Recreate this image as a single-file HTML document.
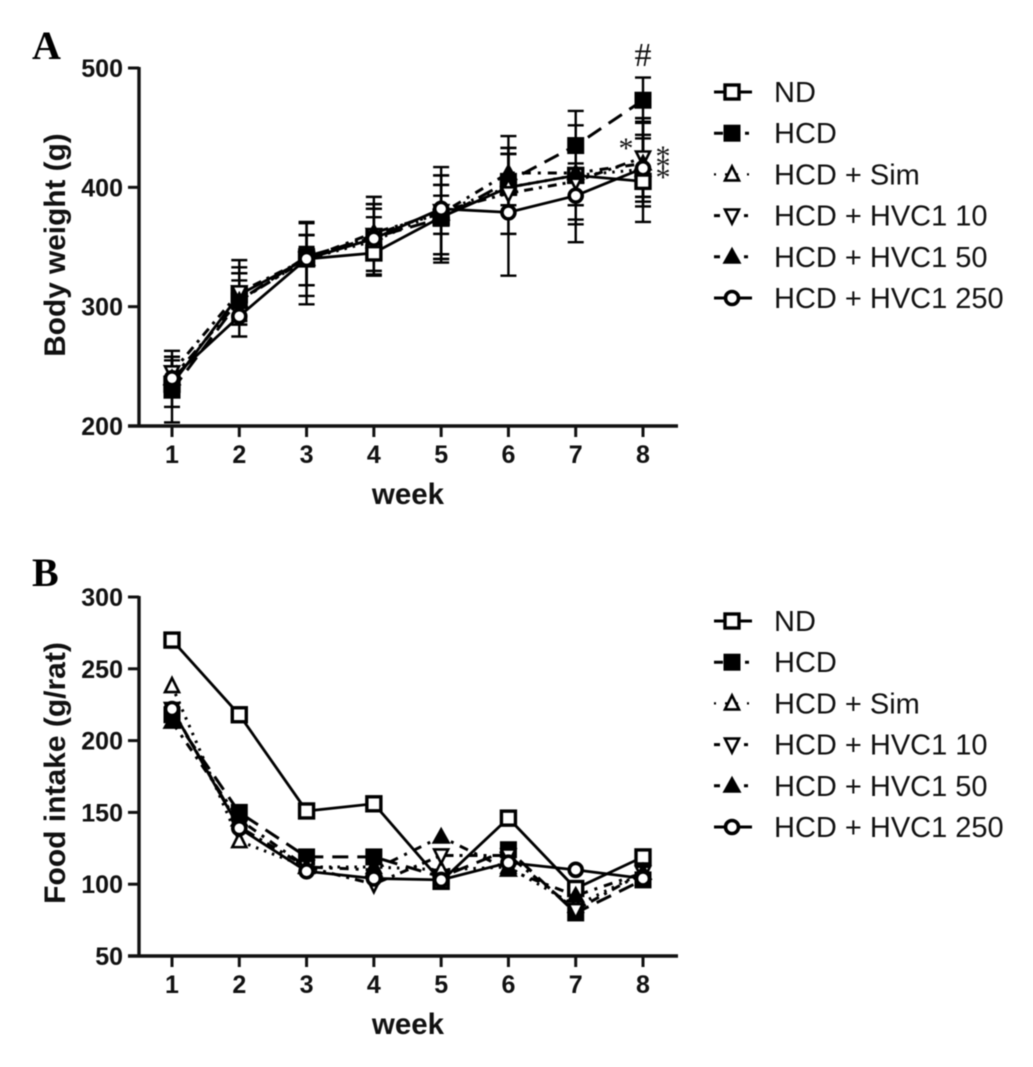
<!DOCTYPE html>
<html>
<head>
<meta charset="utf-8">
<title>Body weight and food intake</title>
<style>
html,body{margin:0;padding:0;background:#fff;width:1033px;height:1067px;overflow:hidden}
svg{display:block;filter:blur(0.45px)}
text{font-family:"Liberation Sans",Arial,sans-serif;fill:#111}
.tick{font-weight:bold;font-size:25px}
.title{font-weight:bold;font-size:29.5px}
.leg{font-size:29px}
.letter{font-family:"Liberation Serif",serif;font-weight:bold;font-size:40px;fill:#000}
.note{font-family:"Liberation Serif",serif;font-size:34px}
</style>
</head>
<body>
<svg id="chart" width="1033" height="1067" viewBox="0 0 1033 1067" xmlns="http://www.w3.org/2000/svg"></svg>
<script>
var weeks = [1,2,3,4,5,6,7,8];
var seriesNames = ['ND','HCD','HCD + Sim','HCD + HVC1 10','HCD + HVC1 50','HCD + HVC1 250'];

var bodyWeightTicks = [200,300,400,500];
var bwND   = [235,310,340,345,375,400,410,405];
var bwHCD  = [230,305,342,358,374,405,435,473];
var bwSim  = [240,305,340,355,380,400,410,415];
var bwH10  = [245,312,340,360,380,395,405,425];
var bwH50  = [240,305,340,362,378,412,412,420];
var bwH250 = [240,292,340,357,382,379,393,416];

var bwUpND   = [258,333,370,375,402,428,452,444];
var bwUpHCD  = [250,328,371,386,410,433,464,492];
var bwUpSim  = [255,322,360,382,417,433,440,458];
var bwUpH10  = [263,339,360,392,410,428,430,454];
var bwUpH50  = [258,328,350,386,402,443,440,458];
var bwUpH250 = [258,310,360,382,393,428,420,441];

var bwLowND   = [216,288,318,330,344,361,373,371];
var bwLowHCD  = [203,285,309,326,340,385,405,455];
var bwLowSim  = [225,288,318,327,361,380,369,392];
var bwLowH10  = [228,290,318,340,337,380,385,388];
var bwLowH50  = [225,285,318,340,344,395,385,392];
var bwLowH250 = [225,275,302,340,340,326,354,384];

var foodTicks = [50,100,150,200,250,300];
var fiND   = [270,218,151,156,102,146,97,119];
var fiHCD  = [218,150,119,119,105,124,80,103];
var fiSim  = [238,130,112,112,110,112,85,108];
var fiH10  = [222,140,112,100,120,120,82,108];
var fiH50  = [213,145,112,110,133,110,92,108];
var fiH250 = [222,139,109,104,103,115,110,104];

var NS = 'http://www.w3.org/2000/svg';
var root = document.getElementById('chart');
var dashes = ['', '16 9', '2.5 6', '9 6 3 6', '9 7 3 7', ''];
var widths = [2.8, 3, 3, 3, 3, 2.8];

function mk(parent, tag, attrs, txt) {
  var e = document.createElementNS(NS, tag);
  for (var k in attrs) e.setAttribute(k, attrs[k]);
  if (txt !== undefined) e.textContent = txt;
  parent.appendChild(e);
  return e;
}

function marker(parent, i, x, y) {
  var g = mk(parent, 'g', {});
  
  
  var s = 3.4;
  if (i === 0) mk(g, 'rect', {x:x-7, y:y-7, width:14, height:14, fill:'#fff', stroke:'#000', 'stroke-width':s});
  if (i === 1) mk(g, 'rect', {x:x-8.5, y:y-8.5, width:17, height:17, fill:'#000'});
  if (i === 2) mk(g, 'polygon', {points:(x)+','+(y-8)+' '+(x+7)+','+(y+6)+' '+(x-7)+','+(y+6), fill:'#fff', stroke:'#000', 'stroke-width':2.6});
  if (i === 3) mk(g, 'polygon', {points:(x)+','+(y+8)+' '+(x+7)+','+(y-6)+' '+(x-7)+','+(y-6), fill:'#fff', stroke:'#000', 'stroke-width':2.6});
  if (i === 4) mk(g, 'polygon', {points:(x)+','+(y-10)+' '+(x+9.5)+','+(y+7)+' '+(x-9.5)+','+(y+7), fill:'#000'});
  if (i === 5) mk(g, 'circle', {cx:x, cy:y, r:6.5, fill:'#fff', stroke:'#000', 'stroke-width':3.6});
}

function panel(cfg) {
  var g = mk(root, 'g', {});
  
  
  var sx = function (w) { return 172 + (w - 1) * (643 - 172) / 7; };
  var sy = function (v) { return cfg.y0 + (v - cfg.v0) * (cfg.y1 - cfg.y0) / (cfg.v1 - cfg.v0); };

  var yAxis = mk(g, 'line', {x1:139, x2:139, y1:sy(cfg.v1)-1, y2:cfg.y0+1.5, stroke:'#111', 'stroke-width':3.4});
  
  
  var xAxis = mk(g, 'line', {x1:128, x2:678, y1:cfg.y0, y2:cfg.y0, stroke:'#111', 'stroke-width':3.4});
  
  

  cfg.ticks.forEach(function (t) {
    mk(g, 'line', {x1:128, x2:139, y1:sy(t), y2:sy(t), stroke:'#111', 'stroke-width':3});
    var lab = mk(g, 'text', {x:123, y:sy(t)+9, 'text-anchor':'end', 'class':'tick'}, t);
    
    
  });
  weeks.forEach(function (w) {
    mk(g, 'line', {x1:sx(w), x2:sx(w), y1:cfg.y0, y2:cfg.y0+11, stroke:'#111', 'stroke-width':3});
    var lab = mk(g, 'text', {x:sx(w), y:cfg.y0+37, 'text-anchor':'middle', 'class':'tick'}, w);
    
    
  });

  var xt = mk(g, 'text', {x:408, y:cfg.y0+78, 'text-anchor':'middle', 'class':'title'}, 'week');
  
  
  var yt = mk(g, 'text', {x:0, y:0, 'text-anchor':'middle', 'class':'title', style:'font-size:'+cfg.titleSize+'px', transform:'translate(65,'+cfg.titleY+') rotate(-90)'}, cfg.title);
  
  

  if (cfg.upper) {
    cfg.series.forEach(function (vals, i) {
      var eb = mk(g, 'g', {stroke:'#000', 'stroke-width':2.4});
      
      
      weeks.forEach(function (w, j) {
        var x = sx(w), up = sy(cfg.upper[i][j]), lo = sy(cfg.lower[i][j]);
        mk(eb, 'line', {x1:x, x2:x, y1:up, y2:lo});
        mk(eb, 'line', {x1:x-8, x2:x+8, y1:up, y2:up});
        mk(eb, 'line', {x1:x-8, x2:x+8, y1:lo, y2:lo});
      });
    });
  }

  cfg.series.forEach(function (vals, i) {
    var pts = vals.map(function (v, j) { return sx(weeks[j]) + ',' + sy(v); }).join(' ');
    var attrs = {points:pts, fill:'none', stroke:'#000', 'stroke-width':widths[i]};
    if (dashes[i]) attrs['stroke-dasharray'] = dashes[i];
    var pl = mk(g, 'polyline', attrs);
    
    
  });
  cfg.series.forEach(function (vals, i) {
    vals.forEach(function (v, j) { marker(g, i, sx(weeks[j]), sy(v)); });
  });

  var lg = mk(root, 'g', {});
  
  
  seriesNames.forEach(function (n, i) {
    var y = cfg.legendY + i * 41.2;
    var row = mk(lg, 'g', {});
    
    
    var a = {x1:714, x2:752, y1:y, y2:y, stroke:'#000', 'stroke-width':3};
    if (i === 1) a['stroke-dasharray'] = '9 22 4 3';
    if (i === 2) { a['stroke-dasharray'] = '2 9'; a['stroke-width'] = 2.2; }
    if (i === 3 || i === 4) a['stroke-dasharray'] = '6 24 4 4';
    mk(row, 'line', a);
    marker(row, i, 732, y);
    mk(row, 'text', {x:774, y:y+10, 'class':'leg'}, n);
  });
}

panel({
  name:'body-weight-chart', title:'Body weight (g)', titleY:245, titleSize:29.8,
  y0:426, v0:200, y1:68, v1:500, ticks:bodyWeightTicks, legendY:92,
  series:[bwND,bwHCD,bwSim,bwH10,bwH50,bwH250],
  upper:[bwUpND,bwUpHCD,bwUpSim,bwUpH10,bwUpH50,bwUpH250],
  lower:[bwLowND,bwLowHCD,bwLowSim,bwLowH10,bwLowH50,bwLowH250]
});
panel({
  name:'food-intake-chart', title:'Food intake (g/rat)', titleY:773, titleSize:30,
  y0:956, v0:50, y1:597, v1:300, ticks:foodTicks, legendY:621,
  series:[fiND,fiHCD,fiSim,fiH10,fiH50,fiH250]
});

var la = mk(root, 'text', {x:32, y:59, 'class':'letter'}, 'A');


var lb = mk(root, 'text', {x:32, y:586, 'class':'letter'}, 'B');


var hash = mk(root, 'text', {x:643, y:66, 'text-anchor':'middle', 'class':'note'}, '#');


[[626,158],[663,166],[663,176],[663,187]].forEach(function (p) {
  var st = mk(root, 'text', {x:p[0], y:p[1], 'text-anchor':'middle', 'class':'note', style:'font-size:30px'}, '*');
  
  
});
</script>
</body>
</html>
